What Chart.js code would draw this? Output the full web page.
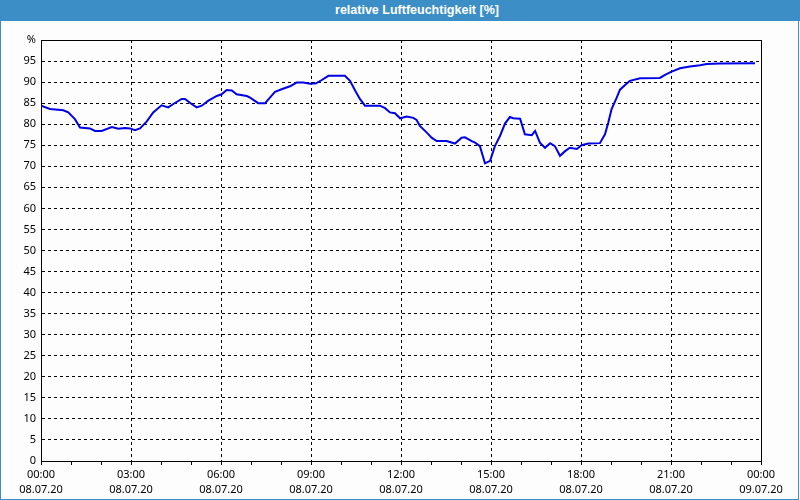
<!DOCTYPE html>
<html>
<head>
<meta charset="utf-8">
<script src="https://cdn.jsdelivr.net/npm/chart.js@4.4.1/dist/chart.umd.min.js"></script>
<style>
    html, body { margin: 0; padding: 0; background: #fcfdfc; }
    .window { position: relative; width: 800px; height: 500px; box-sizing: border-box; background: #fcfdfc; }
    .window__bar {
        position: absolute; left: 0; top: 0; width: 800px; height: 21px;
        background: #3c8fc6; color: #fff;
        font: bold 12.5px 'Liberation Sans', Arial, sans-serif;
        line-height: 21px; text-align: center; padding-left: 34px; box-sizing: border-box;
    }
    .window__body {
        position: absolute; left: 0; top: 21px; width: 799px; height: 479px;
        border-left: 1px solid #3c8fc6; border-right: 1px solid #3c8fc6; border-bottom: 1px solid #3c8fc6;
        box-sizing: border-box;
    }
    .window__body canvas { display: block; }
</style>
</head>
<body>
<div class="window">
    <div class="window__bar">relative Luftfeuchtigkeit [%]</div>
    <div class="window__body"><canvas id="chart" width="797" height="478"></canvas></div>
</div>
<script>
// hours since 08.07.20 00:00
const hours = [
    0, 0.3, 0.74, 0.91, 1.13, 1.3, 1.63, 1.8, 2.02, 2.36,
    2.58, 2.8, 2.97, 3.13, 3.3, 3.52, 3.74, 4.02, 4.24, 4.41,
    4.69, 4.8, 5.02, 5.19, 5.36, 5.58, 5.86, 6.02, 6.19, 6.36,
    6.52, 6.86, 6.97, 7.24, 7.47, 7.63, 7.8, 8.02, 8.3, 8.52,
    8.74, 8.97, 9.17, 9.36, 9.58, 10.13, 10.3, 10.47, 10.63, 10.8,
    11.3, 11.47, 11.63, 11.8, 11.97, 12.19, 12.41, 12.52, 12.63, 12.86,
    13.02, 13.19, 13.52, 13.8, 14.02, 14.13, 14.36, 14.47, 14.63, 14.8,
    14.97, 15.13, 15.3, 15.47, 15.63, 15.74, 15.97, 16.13, 16.36, 16.47,
    16.63, 16.8, 16.97, 17.13, 17.3, 17.47, 17.63, 17.86, 18.02, 18.24,
    18.63, 18.8, 18.91, 19.02, 19.19, 19.3, 19.47, 19.63, 19.97, 20.63,
    20.8, 21.02, 21.3, 21.63, 21.97, 22.19, 22.63, 23.8,
];

const humidity = [
    84.4, 83.6, 83.3, 82.8, 81.2, 79.2, 79.0, 78.4, 78.4, 79.3,
    78.9, 79.1, 79.0, 78.6, 79.0, 80.6, 82.8, 84.5, 84.0, 84.8,
    86.0, 86.0, 84.8, 84.0, 84.4, 85.6, 86.7, 87.1, 88.1, 88.0,
    87.1, 86.7, 86.3, 85.0, 85.0, 86.3, 87.7, 88.3, 89.0, 89.9,
    89.9, 89.6, 89.7, 90.5, 91.5, 91.5, 90.3, 88.0, 86.0, 84.4,
    84.4, 83.8, 82.8, 82.6, 81.4, 81.8, 81.5, 81.0, 79.6, 78.0,
    76.8, 76.0, 76.0, 75.4, 76.8, 76.9, 76.0, 75.6, 74.8, 70.7,
    71.3, 74.8, 77.2, 80.2, 81.7, 81.4, 81.3, 77.6, 77.4, 78.4,
    75.6, 74.4, 75.5, 74.8, 72.5, 73.6, 74.4, 74.1, 75.0, 75.4,
    75.5, 77.6, 80.4, 83.6, 86.3, 88.2, 89.3, 90.3, 90.9, 91.0,
    91.7, 92.5, 93.3, 93.7, 94.0, 94.3, 94.4, 94.5,
];

const tickTimes = ['00:00', '03:00', '06:00', '09:00', '12:00', '15:00', '18:00', '21:00', '00:00'];
const tickDates = ['08.07.20', '08.07.20', '08.07.20', '08.07.20', '08.07.20', '08.07.20', '08.07.20', '08.07.20', '09.07.20'];

const TICK_FONT = { family: 'Noto Sans', size: 11, lineHeight: '15px' };

// black frame round the plot area
const plotFrame = {
    id: 'plotFrame',
    afterDraw(chart) {
        const { ctx, chartArea } = chart;
        ctx.save();
        ctx.strokeStyle = '#000';
        ctx.lineWidth = 1;
        ctx.strokeRect(chartArea.left + 0.5, chartArea.top + 0.5, chartArea.right - chartArea.left, chartArea.bottom - chartArea.top);
        ctx.restore();
    },
};

new Chart(document.getElementById('chart'), {
    type: 'line',
    plugins: [plotFrame],
    data: {
        datasets: [
            {
                data: hours.map((h, i) => ({ x: h, y: humidity[i] })),
                borderColor: '#0000e6',
                borderWidth: 2,
                pointRadius: 0,
                tension: 0,
                fill: false,
            },
        ],
    },
    options: {
        responsive: false,
        animation: false,
        events: [],
        layout: { padding: { left: 0, top: 19, right: 37, bottom: 0 } },
        plugins: {
            legend: { display: false },
            tooltip: { enabled: false },
            title: { display: false },
        },
        scales: {
            x: {
                type: 'linear',
                min: 0,
                max: 24,
                afterFit: (scale) => { scale.height = 38; },
                border: { color: '#000', width: 1, dash: [3, 3] },
                grid: {
                    color: (ctx) => (ctx.tick && ctx.tick.value % 3 === 0 ? '#000' : 'transparent'),
                    tickColor: '#000',
                    tickLength: 4,
                    lineWidth: 1,
                },
                ticks: {
                    stepSize: 1,
                    autoSkip: false,
                    maxRotation: 0,
                    padding: 2,
                    color: '#000',
                    font: TICK_FONT,
                    callback: (value) => {
                        if (value % 3 !== 0) return '';
                        const i = value / 3;
                        return [tickTimes[i], tickDates[i]];
                    },
                },
            },
            y: {
                min: 0,
                max: 100,
                afterFit: (scale) => { scale.width = 40; },
                border: { color: '#000', width: 1, dash: [3, 3] },
                grid: { color: '#000', lineWidth: 1, drawTicks: false },
                ticks: {
                    stepSize: 5,
                    padding: 5,
                    color: '#000',
                    font: TICK_FONT,
                    callback: (value) => (value === 100 ? '%' : value),
                },
            },
        },
    },
});
</script>
</body>
</html>
